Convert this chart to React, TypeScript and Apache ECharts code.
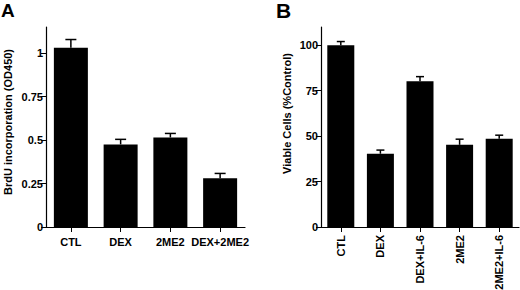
import React, { useEffect, useRef } from "react";
import * as echarts from "echarts";

const catsA = ["CTL", "DEX", "2ME2", "DEX+2ME2"];
const meanA = [1.03, 0.475, 0.515, 0.28];
const errTopA = [1.078, 0.504, 0.538, 0.308];
const ticksA = [0, 0.25, 0.5, 0.75, 1];

const catsB = ["CTL", "DEX", "DEX+IL-6", "2ME2", "2ME2+IL-6"];
const meanB = [100, 40.3, 80.2, 45.2, 48.5];
const errTopB = [102, 42.3, 82.7, 48.3, 50.5];
const ticksB = [0, 25, 50, 75, 100];

const FONT = "Liberation Sans, Arial, Helvetica, sans-serif";

function errSeries(xIdx: number, means: number[], tops: number[], cap: number) {
  return {
    type: "custom",
    xAxisIndex: xIdx,
    yAxisIndex: xIdx,
    silent: true,
    z: 1,
    data: means.map((m, i) => [i, m, tops[i]]),
    renderItem: (params: any, api: any) => {
      const i = api.value(0);
      const p = api.coord([i, api.value(1)]);
      const q = api.coord([i, api.value(2)]);
      const st = { stroke: "#000", lineWidth: 1.5 };
      return {
        type: "group",
        children: [
          { type: "line", shape: { x1: p[0], y1: p[1], x2: q[0], y2: q[1] }, style: st },
          { type: "line", shape: { x1: q[0] - cap / 2, y1: q[1], x2: q[0] + cap / 2, y2: q[1] }, style: st },
        ],
      };
    },
  };
}

export default function App() {
  const ref = useRef<HTMLDivElement>(null);
  useEffect(() => {
    if (!ref.current) return;
    const chart = echarts.init(ref.current, undefined, { renderer: "svg" });
    const labelStyle = { color: "#000", fontFamily: FONT, fontWeight: "bold" as const, fontSize: 11 };
    const axisLine = { show: true, lineStyle: { color: "#000", width: 1.2 } };
    chart.setOption({
      animation: false,
      backgroundColor: "#fff",
      title: [
        { text: "A", left: 1, top: 1, padding: 0, textStyle: { fontFamily: FONT, fontWeight: "bold", fontSize: 19, color: "#000" } },
        { text: "B", left: 276, top: 0, padding: 0, textStyle: { fontFamily: FONT, fontWeight: "bold", fontSize: 21, color: "#000" } },
      ],
      grid: [
        { left: 46, right: 275, top: 27, bottom: 63, outerBoundsMode: "none", containLabel: false },
        { left: 321, right: 1, top: 27, bottom: 63, outerBoundsMode: "none", containLabel: false },
      ],
      xAxis: [
        {
          type: "category", gridIndex: 0, data: catsA,
          axisLine, axisTick: { show: true, alignWithLabel: true, length: 5, lineStyle: { color: "#000" } },
          axisLabel: { ...labelStyle, margin: 9, interval: 0 },
        },
        {
          type: "category", gridIndex: 1, data: catsB,
          axisLine, axisTick: { show: true, alignWithLabel: true, length: 5, lineStyle: { color: "#000" } },
          axisLabel: { ...labelStyle, margin: 8, interval: 0, rotate: 90 },
        },
      ],
      yAxis: [
        {
          type: "value", gridIndex: 0, min: 0, max: 1.15,
          splitLine: { show: false },
          axisLine, axisTick: { show: true, length: 5, lineStyle: { color: "#000" }, customValues: ticksA },
          axisLabel: { ...labelStyle, margin: 3, customValues: ticksA },
          name: "BrdU incorporation (OD450)", nameLocation: "middle", nameGap: 33,
          nameTextStyle: { ...labelStyle, padding: [0, 0, 0, 10] },
        },
        {
          type: "value", gridIndex: 1, min: 0, max: 110,
          splitLine: { show: false },
          axisLine, axisTick: { show: true, length: 5, lineStyle: { color: "#000" }, customValues: ticksB },
          axisLabel: { ...labelStyle, margin: 3, customValues: ticksB },
          name: "Viable Cells (%Control)", nameLocation: "middle", nameGap: 29,
          nameTextStyle: { ...labelStyle, padding: [0, 0, 0, 27] },
        },
      ],
      series: [
        errSeries(0, meanA, errTopA, 11),
        { type: "bar", xAxisIndex: 0, yAxisIndex: 0, data: meanA, barWidth: 34, itemStyle: { color: "#000" }, z: 2 },
        errSeries(1, meanB, errTopB, 8),
        { type: "bar", xAxisIndex: 1, yAxisIndex: 1, data: meanB, barWidth: 27, itemStyle: { color: "#000" }, z: 2 },
      ],
    });
    return () => chart.dispose();
  }, []);
  return <div ref={ref} style={{ position: "fixed", left: 0, top: 0, width: 520, height: 290 }} />;
}
